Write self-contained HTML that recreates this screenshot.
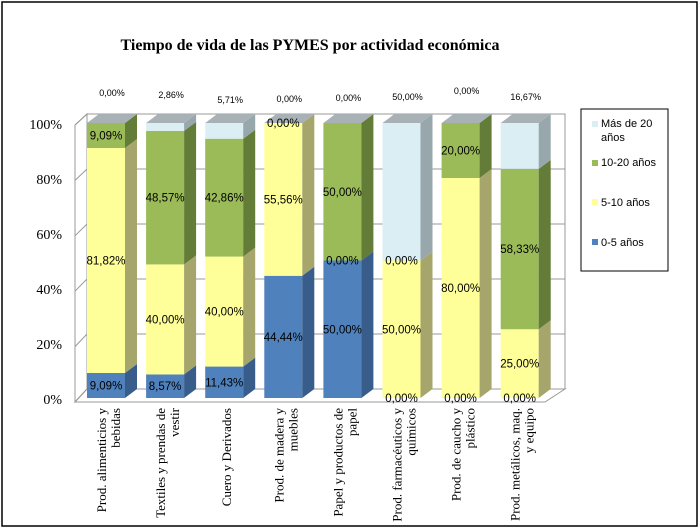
<!DOCTYPE html>
<html><head><meta charset="utf-8"><style>
body{margin:0;background:#fff}
svg{display:block}
text{font-family:"Liberation Sans",sans-serif}
</style></head><body>
<svg id="c" width="700" height="529" viewBox="0 0 700 529">
<rect x="2" y="2" width="695" height="524" fill="#fff" stroke="#000" stroke-width="1.5"/>
<text x="310" y="50" text-anchor="middle" font-weight="bold" font-size="16" style="font-family:'Liberation Serif',serif">Tiempo de vida de las PYMES por actividad económica</text>
<g id="g"></g>
<g>
<rect x="581" y="109" width="87" height="162" fill="#fff" stroke="#000" stroke-width="1"/>
<rect x="592" y="121" width="6" height="6" fill="#dbeef4"/>
<text x="601" y="127" font-size="11">Más de 20</text>
<text x="601" y="141" font-size="11">años</text>
<rect x="592" y="160" width="6" height="6" fill="#9bbb59"/>
<text x="601" y="166" font-size="11">10-20 años</text>
<rect x="592" y="199" width="6" height="6" fill="#ffff99"/>
<text x="601" y="206" font-size="11">5-10 años</text>
<rect x="592" y="239" width="6" height="6" fill="#4f81bd"/>
<text x="601" y="246" font-size="11">0-5 años</text>
</g>
</svg>
<script>
const categories=[["Prod. alimenticios y","bebidas"],["Textiles y prendas de","vestir"],["Cuero y Derivados"],["Prod. de madera y","muebles"],["Papel y productos de","papel"],["Prod. farmacéuticos y","químicos"],["Prod. de caucho y","plástico"],["Prod. metálicos, maq.","y equipo"]];
const s0_5=[9.09,8.57,11.43,44.44,50,0,0,0];
const s5_10=[81.82,40,40,55.56,0,50,80,25];
const s10_20=[9.09,48.57,42.86,0,50,0,20,58.33];
const s20=[0,2.86,5.71,0,0,50,0,16.67];
const yTicks=[0,20,40,60,80,100];
const topLabelDy=[0,2,7,6,5,4,-2,4];

const NS="http://www.w3.org/2000/svg";
const g=document.getElementById('g');
function el(t,a,p){const e=document.createElementNS(NS,t);for(const k in a)e.setAttribute(k,a[k]);(p||g).appendChild(e);return e;}
const X0=87,STEP=59.1,BW=38,DX=12,DY=9,Y0=398,H=275;
const xs=i=>X0+i*STEP;
const ys=v=>Y0-v/100*H;
const wall=el('polygon',{points:`${X0-12+DX},${ys(100)-DY} ${565},${ys(100)-DY} ${565},${Y0-DY} ${X0-12+DX},${Y0-DY}`,fill:'#fff',stroke:'#999'});

const side=el('polygon',{points:`${X0-12},${ys(100)+2} ${X0-12+DX},${ys(100)-DY} ${X0-12+DX},${Y0-DY} ${X0-12},${Y0+4}`,fill:'#fff',stroke:'#999'});

const floor=el('polygon',{points:`${X0-12},${Y0+4} ${X0-12+DX},${Y0-DY} 565,${Y0-DY} 545,${Y0+4}`,fill:'#fff',stroke:'#999'});

yTicks.forEach(t=>{
  const y=ys(t)-DY;
  const l=el('polyline',{points:`${X0-12},${y+DY+(t==100?2:4-t/100*2)} ${X0},${y} 565,${y}`,fill:'none',stroke:'#999'});
  
  const tx=el('text',{x:62,y:ys(t)+6,'text-anchor':'end','font-size':14,style:"font-family:'Liberation Serif',serif"});
  tx.textContent=t+'%';
  
});
const series=[s0_5,s5_10,s10_20,s20];
const front=['#4f81bd','#ffff99','#9bbb59','#dbeef4'];
const sideC=['#385d8a','#a6a66c','#637c37','#98a7ac'];
const names=['0-5','5-10','10-20','mas-20'];
const fmt=v=>v.toFixed(2).replace('.',',')+'%';
categories.forEach((c,i)=>{
  const x=xs(i);let cum=0;
  series.forEach((s,k)=>{
    const v=s[i];const yb=ys(cum),yt=ys(cum+v);
    if(v>0){
      const f=el('rect',{x:x,y:yt,width:BW,height:yb-yt,fill:front[k]});
      
      const sd=el('polygon',{points:`${x+BW},${yb} ${x+BW+DX},${yb-DY} ${x+BW+DX},${yt-DY} ${x+BW},${yt}`,fill:sideC[k]});
      
    }
    cum+=v;
  });
  const tp=el('polygon',{points:`${x},${ys(cum)} ${x+DX},${ys(cum)-DY} ${x+BW+DX},${ys(cum)-DY} ${x+BW},${ys(cum)}`,fill:'#a8b2b6'});
  
  cum=0;
  series.forEach((s,k)=>{
    const v=s[i];let lx=x+BW/2,ly;
    if(k==3){ly=96+topLabelDy[i];lx=x+BW/2+6;}
    else ly=ys(cum+v/2)+4;
    const t=el('text',{x:lx,y:ly,'text-anchor':'middle','font-size':k==3?9:11.5});
    t.textContent=fmt(v);
    
    cum+=v;
  });
  const cx=x+BW/2+3;const n=c.length;
  c.forEach((line,j)=>{
    const lx=cx+(j-(n-1)/2)*14+4;
    const t=el('text',{x:lx,y:408,'text-anchor':'end','font-size':13,transform:`rotate(-90 ${lx} 408)`,style:"font-family:'Liberation Serif',serif"});
    t.textContent=line;
    
  });
});
</script>
</body></html>
